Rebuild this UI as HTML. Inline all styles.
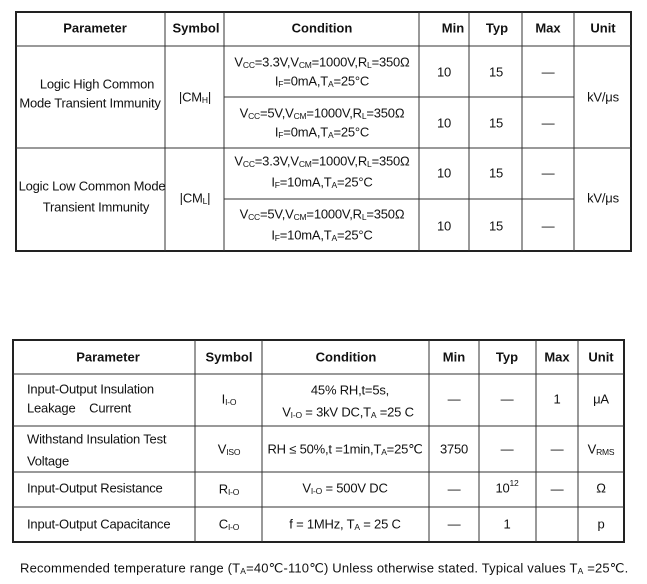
<!DOCTYPE html>
<html><head><meta charset="utf-8"><style>
html,body{margin:0;padding:0;background:#fff;}
svg{display:block;font-family:"Liberation Sans",sans-serif;}
text{font-size:13px;fill:#111;dominant-baseline:central;letter-spacing:-0.2px;}
.h{font-weight:bold;letter-spacing:0;}
.s{font-size:8.5px;baseline-shift:-3px;}
.u{font-size:8.5px;baseline-shift:5px;}
.th{stroke:#222;stroke-width:2;fill:none}
.tl{stroke:#333;stroke-width:1}
</style></head><body>
<svg width="647" height="584" viewBox="0 0 647 584">
<!-- Table 1 -->
<rect class="th" x="16" y="12" width="615" height="239"/>
<g class="tl">
<line x1="165" y1="12" x2="165" y2="251"/>
<line x1="224" y1="12" x2="224" y2="251"/>
<line x1="419" y1="12" x2="419" y2="251"/>
<line x1="469" y1="12" x2="469" y2="251"/>
<line x1="522" y1="12" x2="522" y2="251"/>
<line x1="574" y1="12" x2="574" y2="251"/>
<line x1="16" y1="46" x2="631" y2="46"/>
<line x1="224" y1="97" x2="574" y2="97"/>
<line x1="16" y1="148" x2="631" y2="148"/>
<line x1="224" y1="199" x2="574" y2="199"/>
</g>
<g text-anchor="middle">
<text class="h" x="95" y="28">Parameter</text>
<text class="h" x="196" y="28">Symbol</text>
<text class="h" x="322" y="28">Condition</text>
<text class="h" x="453" y="28">Min</text>
<text class="h" x="497" y="28">Typ</text>
<text class="h" x="548" y="28">Max</text>
<text class="h" x="603" y="28">Unit</text>

<text x="97" y="84">Logic High Common</text>
<text x="90" y="103">Mode Transient Immunity</text>
<text x="195" y="97">|CM<tspan class="s">H</tspan>|</text>
<text x="92" y="186">Logic Low Common Mode</text>
<text x="96" y="207">Transient Immunity</text>
<text x="195" y="198">|CM<tspan class="s">L</tspan>|</text>

<text x="322" y="62">V<tspan class="s">CC</tspan>=3.3V,V<tspan class="s">CM</tspan>=1000V,R<tspan class="s">L</tspan>=350Ω</text>
<text x="322" y="81">I<tspan class="s">F</tspan>=0mA,T<tspan class="s">A</tspan>=25°C</text>
<text x="322" y="113">V<tspan class="s">CC</tspan>=5V,V<tspan class="s">CM</tspan>=1000V,R<tspan class="s">L</tspan>=350Ω</text>
<text x="322" y="132">I<tspan class="s">F</tspan>=0mA,T<tspan class="s">A</tspan>=25°C</text>
<text x="322" y="161">V<tspan class="s">CC</tspan>=3.3V,V<tspan class="s">CM</tspan>=1000V,R<tspan class="s">L</tspan>=350Ω</text>
<text x="322" y="182">I<tspan class="s">F</tspan>=10mA,T<tspan class="s">A</tspan>=25°C</text>
<text x="322" y="214">V<tspan class="s">CC</tspan>=5V,V<tspan class="s">CM</tspan>=1000V,R<tspan class="s">L</tspan>=350Ω</text>
<text x="322" y="235">I<tspan class="s">F</tspan>=10mA,T<tspan class="s">A</tspan>=25°C</text>

<text x="444" y="72">10</text><text x="496" y="72">15</text><text x="548" y="72">—</text>
<text x="444" y="123">10</text><text x="496" y="123">15</text><text x="548" y="123">—</text>
<text x="444" y="173">10</text><text x="496" y="173">15</text><text x="548" y="173">—</text>
<text x="444" y="226">10</text><text x="496" y="226">15</text><text x="548" y="226">—</text>
<text x="603" y="97">kV/μs</text>
<text x="603" y="198">kV/μs</text>
</g>

<!-- Table 2 -->
<rect class="th" x="13" y="340" width="611" height="202"/>
<g class="tl">
<line x1="195" y1="340" x2="195" y2="542"/>
<line x1="262" y1="340" x2="262" y2="542"/>
<line x1="429" y1="340" x2="429" y2="542"/>
<line x1="479" y1="340" x2="479" y2="542"/>
<line x1="536" y1="340" x2="536" y2="542"/>
<line x1="578" y1="340" x2="578" y2="542"/>
<line x1="13" y1="374" x2="624" y2="374"/>
<line x1="13" y1="426" x2="624" y2="426"/>
<line x1="13" y1="472" x2="624" y2="472"/>
<line x1="13" y1="507" x2="624" y2="507"/>
</g>
<g text-anchor="middle">
<text class="h" x="108" y="357">Parameter</text>
<text class="h" x="229" y="357">Symbol</text>
<text class="h" x="346" y="357">Condition</text>
<text class="h" x="454" y="357">Min</text>
<text class="h" x="507" y="357">Typ</text>
<text class="h" x="557" y="357">Max</text>
<text class="h" x="601" y="357">Unit</text>

<text x="229" y="399">I<tspan class="s">I-O</tspan></text>
<text x="229" y="449">V<tspan class="s">ISO</tspan></text>
<text x="229" y="489">R<tspan class="s">I-O</tspan></text>
<text x="229" y="524">C<tspan class="s">I-O</tspan></text>

<text x="350" y="390">45% RH,t=5s,</text>
<text x="348" y="412">V<tspan class="s">I-O</tspan> = 3kV DC,T<tspan class="s">A</tspan> =25 C</text>
<text x="345" y="449">RH ≤ 50%,t =1min,T<tspan class="s">A</tspan>=25℃</text>
<text x="345" y="488">V<tspan class="s">I-O</tspan> = 500V DC</text>
<text x="345" y="524">f = 1MHz, T<tspan class="s">A</tspan> = 25 C</text>

<text x="454" y="399">—</text><text x="507" y="399">—</text><text x="557" y="399">1</text><text x="601" y="399">μA</text>
<text x="454" y="449">3750</text><text x="507" y="449">—</text><text x="557" y="449">—</text><text x="601" y="449">V<tspan class="s">RMS</tspan></text>
<text x="454" y="489">—</text><text x="507" y="488">10<tspan class="u">12</tspan></text><text x="557" y="489">—</text><text x="601" y="488">Ω</text>
<text x="454" y="524">—</text><text x="507" y="524">1</text><text x="601" y="524">p</text>
</g>
<g>
<text x="27" y="389">Input-Output Insulation</text>
<text x="27" y="408">Leakage&#160;&#160;&#160; Current</text>
<text x="27" y="439">Withstand Insulation Test</text>
<text x="27" y="461">Voltage</text>
<text x="27" y="488">Input-Output Resistance</text>
<text x="27" y="524">Input-Output Capacitance</text>
<text x="20" y="568" textLength="608" lengthAdjust="spacing">Recommended temperature range (T<tspan class="s">A</tspan>=40℃-110℃) Unless otherwise stated. Typical values T<tspan class="s">A</tspan> =25℃.</text>
</g>
</svg>
</body></html>
